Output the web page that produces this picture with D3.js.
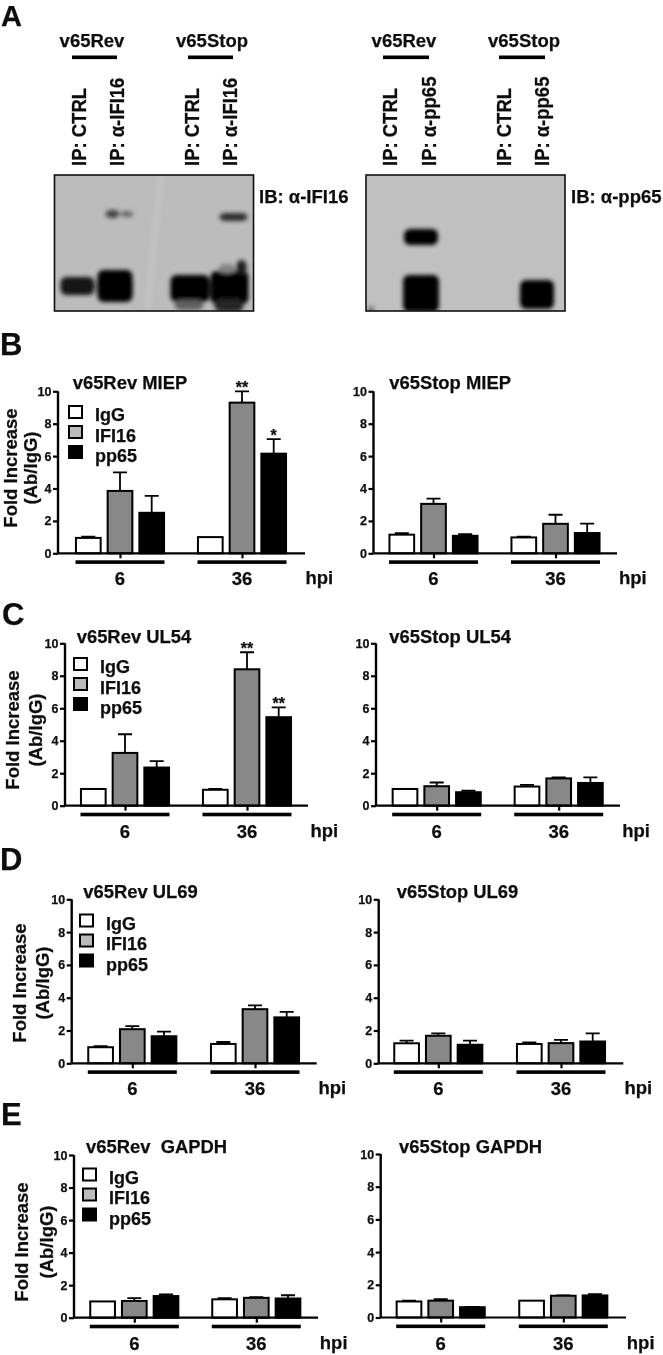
<!DOCTYPE html>
<html><head><meta charset="utf-8">
<script src="https://cdn.jsdelivr.net/npm/d3@7/dist/d3.min.js"></script>
<style>
html,body{margin:0;padding:0;background:#fff}
svg{display:block}
text{font-family:"Liberation Sans",Arial,sans-serif;font-weight:bold;fill:#111;stroke:#111;stroke-width:.25px;white-space:pre}
</style></head><body><div id="chart"></div>
<script>
// ---- data ----
const timepoints = ["6","36"];
const series = ["IgG","IFI16","pp65"];
const yTicks = [0,2,4,6,8,10];

const revMiepMeans  = [0.95,3.85,2.5, 1.0,9.3,6.15];
const revMiepTops   = [1.03,5.0,3.55, 1.0,10.0,7.05];
const stopMiepMeans = [1.15,3.05,1.08, 0.98,1.82,1.25];
const stopMiepTops  = [1.25,3.38,1.18, 1.03,2.38,1.83];
const revUl54Means  = [1.03,3.25,2.35, 0.98,8.4,5.45];
const revUl54Tops   = [1.03,4.4,2.75, 1.03,9.45,6.05];
const stopUl54Means = [1.03,1.2,0.83, 1.18,1.68,1.4];
const stopUl54Tops  = [1.03,1.43,0.92, 1.28,1.75,1.75];
const revUl69Means  = [0.98,2.08,1.65, 1.18,3.3,2.8];
const revUl69Tops   = [1.05,2.27,1.93, 1.3,3.53,3.13];
const stopUl69Means = [1.22,1.68,1.13, 1.18,1.23,1.33];
const stopUl69Tops  = [1.38,1.83,1.38, 1.28,1.43,1.83];
const revGapdhMeans = [1.0,1.03,1.33, 1.13,1.22,1.18];
const revGapdhTops  = [1.0,1.2,1.43, 1.2,1.27,1.38];
const stopGapdhMeans= [0.98,1.03,0.63, 1.03,1.33,1.35];
const stopGapdhTops = [1.03,1.12,0.65, 1.03,1.35,1.43];
const revMiepStars  = ["","","", "","**","*"];
const revUl54Stars  = ["","","", "","**","**"];

// blot bands in membrane units: [x0,x1,y0,y1,darkness]
const ifi16Bands = [[6,40,102,120,.88],[43,78,95,127,.98],[43,78,102,124,1],[51,65,35,43,.65],[66,79,36,42,.45],[116,155,100,127,.98],[118,155,104,124,1],[120,149,125,135,.5],[156,194,96,129,1],[182,192,85,100,.85],[160,189,124,137,.8],[164,181,89,98,.3],[165,193,38,46,.75]];
const pp65Bands  = [[38,72,54,70,1],[37,73,100,137,.98],[154,188,105,134,.98],[2,8,131,138,.45]];

// ---- layout ----
const W=663,H=1355;
const svg=d3.select("#chart").append("svg").attr("width",W).attr("height",H).attr("viewBox",`0 0 ${W} ${H}`);
const defs=svg.append("defs");
defs.append("filter").attr("id","soft").attr("x","-5%").attr("y","-5%").attr("width","110%").attr("height","110%")
  .append("feGaussianBlur").attr("stdDeviation",0.4);
defs.append("filter").attr("id","band").attr("x","-30%").attr("y","-50%").attr("width","160%").attr("height","200%")
  .append("feGaussianBlur").attr("stdDeviation",2);
const root=svg.append("g").attr("filter","url(#soft)");
const T=(x,y,s,size,anchor)=>root.append("text").attr("x",x).attr("y",y).attr("font-size",size).attr("text-anchor",anchor||"start").text(s);

// panel letters
[["A",1,26,29],["B",0,355,31],["C",2,625,31],["D",0,870,31],["E",1,1125,31]].forEach(d=>T(d[1],d[2],d[0],d[3]));

// ---- panel A ----
const blots=[
 {x:54.5,w:199,bg:"#bcbcbc",bands:ifi16Bands,id:"c1",ib:"IB: α-IFI16",ibx:259,ab:"α-IFI16",strip:true,
  heads:[[92,72,117,"v65Rev"],[212,188,233,"v65Stop"]],lanes:[86,124,199,237]},
 {x:366,w:199,bg:"#c0c0c0",bands:pp65Bands,id:"c2",ib:"IB: α-pp65",ibx:571,ab:"α-pp65",
  heads:[[404,383,429,"v65Rev"],[524,499,545,"v65Stop"]],lanes:[397,436,511,549]}
];
blots.forEach(b=>{
  const sx=d3.scaleLinear().domain([0,199]).range([b.x,b.x+b.w]);
  const sy=d3.scaleLinear().domain([0,136]).range([175,311]);
  defs.append("clipPath").attr("id",b.id).append("rect").attr("x",b.x).attr("y",175).attr("width",b.w).attr("height",136);
  root.append("rect").attr("x",b.x).attr("y",175).attr("width",b.w).attr("height",136).attr("fill",b.bg);
  const g=root.append("g").attr("clip-path",`url(#${b.id})`).append("g").attr("filter","url(#band)");
  if(b.strip){
    g.append("path").attr("d",d3.line()([[sx(104),sy(0)],[sx(109),sy(0)],[sx(95),sy(136)],[sx(90),sy(136)]])+"Z").attr("fill","#c5c5c5");
  }
  g.selectAll("rect").data(b.bands).join("rect")
    .attr("x",d=>sx(d[0])).attr("width",d=>sx(d[1])-sx(d[0]))
    .attr("y",d=>sy(d[2])).attr("height",d=>sy(d[3])-sy(d[2]))
    .attr("rx",6).attr("fill",d=>d3.interpolateRgb(b.bg,"#000")(d[4]));
  root.append("rect").attr("x",b.x).attr("y",175).attr("width",b.w).attr("height",136).attr("fill","none").attr("stroke","#111").attr("stroke-width",1.6);
  T(b.ibx,203,b.ib,18.5);
  b.heads.forEach(h=>{
    T(h[0],46.5,h[3],18.5,"middle");
    root.append("rect").attr("x",h[1]).attr("y",55.5).attr("width",h[2]-h[1]).attr("height",3.6).attr("fill","#000");
  });
  b.lanes.forEach((x,i)=>{
    root.append("text").attr("transform",`translate(${x},166) rotate(-90) scale(1,1.12)`).attr("font-size",18.5)
      .text(i%2? "IP: "+b.ab : "IP: CTRL");
  });
});

// ---- bar panels ----
const panels=[
 {title:"v65Rev MIEP",means:revMiepMeans,tops:revMiepTops,stars:revMiepStars,ax:58,c:[120,242],end:305,y10:391.3,y0:553.3,tx:72.7,ty:389,lx:68,ly:405,fx:16.5,ay:37,cy:468},
 {title:"v65Stop MIEP",means:stopMiepMeans,tops:stopMiepTops,ax:373.5,c:[433.5,555.5],end:617,y10:391.3,y0:553.3,tx:389.3,ty:389},
 {title:"v65Rev UL54",means:revUl54Means,tops:revUl54Tops,stars:revUl54Stars,ax:65,c:[125,247],end:308,y10:643.3,y0:805.7,tx:76.7,ty:643,lx:73,ly:657,fx:19.3,ay:42,cy:730},
 {title:"v65Stop UL54",means:stopUl54Means,tops:stopUl54Tops,ax:376,c:[436.7,558.7],end:620,y10:643.3,y0:805.7,tx:389.3,ty:643},
 {title:"v65Rev UL69",means:revUl69Means,tops:revUl69Tops,ax:71.7,c:[132.3,255],end:316.7,y10:899.3,y0:1063.3,tx:83.3,ty:898,lx:79,ly:913.5,fx:26,ay:49,cy:983},
 {title:"v65Stop UL69",means:stopUl69Means,tops:stopUl69Tops,ax:378.7,c:[438.3,561],end:623.3,y10:899.3,y0:1063.3,tx:396.7,ty:898},
 {title:"v65Rev  GAPDH",means:revGapdhMeans,tops:revGapdhTops,ax:74,c:[134.3,256.3],end:318,y10:1155,y0:1317.7,tx:86,ty:1153,lx:82,ly:1167.5,fx:28.3,ay:52.7,cy:1242},
 {title:"v65Stop GAPDH",means:stopGapdhMeans,tops:stopGapdhTops,ax:380.7,c:[440.7,563.3],end:626,y10:1154,y0:1317.5,tx:399,ty:1153}
];
const fills={IgG:"#fff",IFI16:"#888",pp65:"#000"};
const legendFills={IgG:"#fff",IFI16:"#bbb",pp65:"#000"};
const inner=d3.scaleBand().domain(series).range([-47.55,47.55]).paddingInner(0.158).paddingOuter(0.079);

panels.forEach(p=>{
  const g=root.append("g");
  const y=d3.scaleLinear().domain([0,10]).range([p.y0,p.y10]);
  const x=d3.scalePoint().domain(timepoints).range(p.c);
  const rows=[];
  timepoints.forEach((t,ti)=>series.forEach((s,si)=>{
    const k=ti*3+si;
    rows.push({t,s,v:p.means[k],top:p.tops[k],star:p.stars?p.stars[k]:""});
  }));
  const bx=d=>x(d.t)+inner(d.s);
  const bw=inner.bandwidth();
  // error bars
  g.selectAll("path.err").data(rows.filter(d=>d.top>d.v)).join("path").attr("class","err")
    .attr("d",d=>{const c=bx(d)+bw/2;return `M${c},${y(d.v)}V${y(d.top)}M${c-7},${y(d.top)}H${c+7}`;})
    .attr("fill","none").attr("stroke","#000").attr("stroke-width",1.8);
  // bars
  g.selectAll("rect.bar").data(rows).join("rect").attr("class","bar")
    .attr("x",d=>bx(d)+1).attr("width",bw-2)
    .attr("y",d=>y(d.v)).attr("height",d=>y(0)-y(d.v))
    .attr("fill",d=>fills[d.s]).attr("stroke","#000").attr("stroke-width",2);
  // stars
  g.selectAll("text.star").data(rows.filter(d=>d.star)).join("text").attr("class","star")
    .attr("x",d=>bx(d)+bw/2).attr("y",d=>y(d.top)+1.5).attr("text-anchor","middle").attr("font-size",16).text(d=>d.star);
  // y axis
  const ya=g.append("g").attr("transform",`translate(${p.ax},0)`)
    .call(d3.axisLeft(y).tickValues(yTicks).tickSize(5).tickPadding(1.5).tickFormat(d3.format("d")));
  ya.select(".domain").attr("stroke","#000").attr("stroke-width",2.4).attr("d",`M0,${p.y0}V${p.y10}`);
  ya.selectAll(".tick line").attr("stroke","#000").attr("stroke-width",2.2);
  ya.selectAll("text").attr("font-size",12.5).attr("font-family",'"Liberation Sans",Arial,sans-serif').attr("font-weight","bold").attr("fill","#111");
  // x axis
  const xa=g.append("g").attr("transform",`translate(0,${p.y0})`)
    .call(d3.axisBottom(x).tickSize(5).tickFormat(""));
  xa.select(".domain").attr("stroke","#000").attr("stroke-width",2.2).attr("d",`M${p.ax},0H${p.end}`);
  xa.selectAll(".tick line").attr("stroke","#000").attr("stroke-width",2.2);
  // group rules & labels
  timepoints.forEach(t=>{
    g.append("rect").attr("x",x(t)-44.5).attr("y",p.y0+7).attr("width",89).attr("height",3.6).attr("fill","#000");
    g.append("text").attr("x",x(t)).attr("y",p.y0+32).attr("text-anchor","middle").attr("font-size",18.5).text(t);
  });
  g.append("text").attr("x",p.c[1]+63.5).attr("y",p.y0+31).attr("font-size",18.5).text("hpi");
  // title
  g.append("text").attr("x",p.tx).attr("y",p.ty).attr("font-size",18.4).text(p.title);
  // legend + y label on left-hand panels
  if(p.lx){
    series.forEach((s,i)=>{
      g.append("rect").attr("x",p.lx+1).attr("y",p.ly+i*20+1).attr("width",13).attr("height",12)
        .attr("fill",legendFills[s]).attr("stroke","#000").attr("stroke-width",2);
      g.append("text").attr("x",p.lx+27).attr("y",p.ly+16+i*20.5).attr("font-size",18).text(s);
    });
    g.append("text").attr("transform",`translate(${p.fx},${p.cy}) rotate(-90)`).attr("text-anchor","middle").attr("font-size",18.5).text("Fold Increase");
    g.append("text").attr("transform",`translate(${p.ay},${p.cy}) rotate(-90)`).attr("text-anchor","middle").attr("font-size",18.5).text("(Ab/IgG)");
  }
});
</script></body></html>
